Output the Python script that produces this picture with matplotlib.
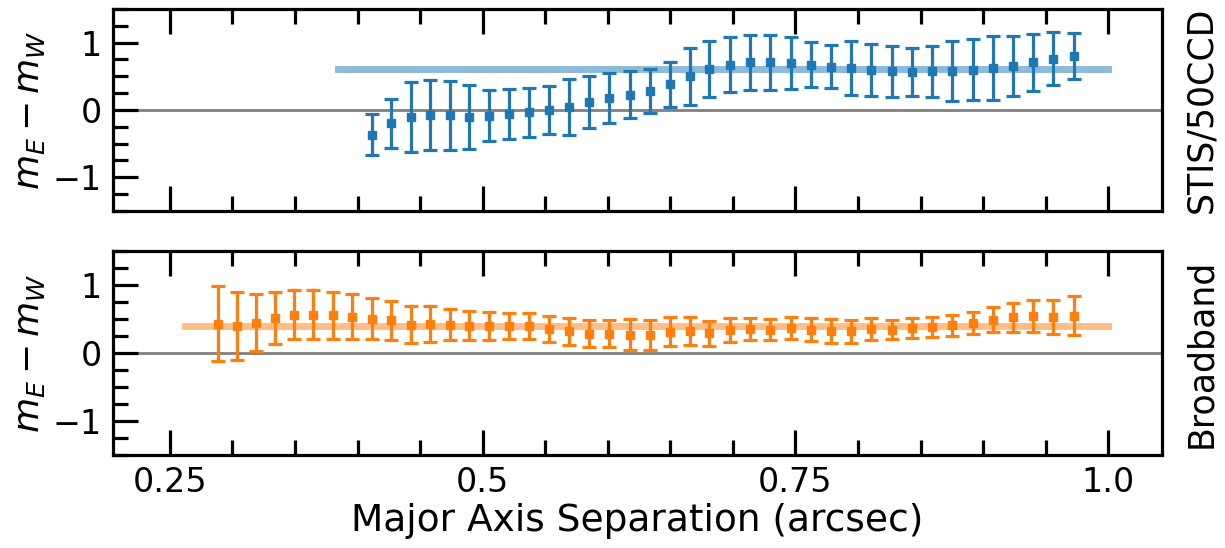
import matplotlib
matplotlib.use("Agg")
import matplotlib.pyplot as plt
from matplotlib.ticker import MultipleLocator

# separation bins (arcsec)
sep_broad = [0.2881, 0.3033, 0.3185, 0.3339, 0.3494, 0.3645, 0.3801, 0.3957,
             0.4112, 0.4267, 0.4424, 0.4578, 0.4736, 0.4893, 0.5052, 0.5212,
             0.5372, 0.5532, 0.5692, 0.5852, 0.6012, 0.6177, 0.6337, 0.6497,
             0.6657, 0.6811, 0.6977, 0.7136, 0.7296, 0.7462, 0.7621, 0.7781,
             0.7941, 0.8101, 0.8269, 0.8429, 0.8589, 0.8753, 0.8916, 0.9076,
             0.9236, 0.9401, 0.9561, 0.9726]
sep_stis = sep_broad[8:]

# STIS/50CCD: m_E - m_W and its error
dm_stis = [-0.365, -0.20, -0.104, -0.068, -0.078, -0.104, -0.083, -0.059,
           -0.034, 0.005, 0.044, 0.119, 0.178, 0.228, 0.282, 0.381,
           0.50, 0.607, 0.672, 0.711, 0.711, 0.696, 0.672, 0.643,
           0.618, 0.595, 0.573, 0.563, 0.573, 0.578, 0.598, 0.622,
           0.652, 0.707, 0.761, 0.80]
err_stis = [0.31, 0.36, 0.52, 0.52, 0.51, 0.48, 0.385, 0.37,
            0.366, 0.356, 0.41, 0.39, 0.37, 0.35, 0.33, 0.33,
            0.42, 0.42, 0.41, 0.41, 0.41, 0.385, 0.335, 0.32,
            0.40, 0.39, 0.38, 0.36, 0.38, 0.44, 0.45, 0.47,
            0.45, 0.42, 0.39, 0.34]

# Broadband
dm_broad = [0.432, 0.393, 0.442, 0.51, 0.565, 0.56, 0.555, 0.535,
            0.506, 0.481, 0.417, 0.427, 0.417, 0.403, 0.398, 0.403,
            0.393, 0.354, 0.319, 0.285, 0.285, 0.27, 0.27, 0.31,
            0.319, 0.29, 0.344, 0.354, 0.344, 0.369, 0.344, 0.319,
            0.319, 0.354, 0.344, 0.369, 0.384, 0.408, 0.442, 0.492,
            0.526, 0.541, 0.526, 0.551]
err_broad = [0.555, 0.497, 0.42, 0.385, 0.364, 0.36, 0.345, 0.33,
             0.30, 0.29, 0.275, 0.26, 0.226, 0.21, 0.20, 0.19,
             0.19, 0.187, 0.20, 0.20, 0.204, 0.224, 0.219, 0.214,
             0.206, 0.184, 0.177, 0.165, 0.16, 0.162, 0.167, 0.175,
             0.167, 0.165, 0.14, 0.143, 0.152, 0.157, 0.162, 0.182,
             0.214, 0.231, 0.253, 0.28]

# mean offsets (horizontal bands)
mean_stis = 0.607
mean_broad = 0.403
band_stis = [0.384, 1.0]
band_broad = [0.262, 1.0]

panels = [
    ("STIS/50CCD", sep_stis, dm_stis, err_stis, mean_stis, band_stis, "C0"),
    ("Broadband", sep_broad, dm_broad, err_broad, mean_broad, band_broad, "C1"),
]

fig = plt.figure(figsize=(12.25, 5.48), dpi=100)
boxes = [[0.0922, 0.615, 0.8564, 0.3686], [0.0922, 0.1697, 0.8564, 0.3723]]

for (name, x, y, e, m, band, col), box in zip(panels, boxes):
    ax = fig.add_axes(box)
    ax.axhline(0, color="gray", lw=2, zorder=1)
    ax.plot(band, [m, m], color=col, alpha=0.5, lw=5, zorder=2)
    ax.errorbar(x, y, yerr=e, fmt="s", color=col, ms=6, elinewidth=2.3,
                capsize=5, capthick=2.3, zorder=3)

    ax.set_xlim(0.2045, 1.043)
    ax.set_ylim(-1.5, 1.5)
    ax.set_xticks([0.25, 0.5, 0.75, 1.0])
    ax.xaxis.set_minor_locator(MultipleLocator(0.05))
    ax.set_yticks([-1, 0, 1])
    ax.yaxis.set_minor_locator(MultipleLocator(0.25))
    ax.tick_params(which="both", direction="in", top=True, right=True, labelsize=24)
    ax.tick_params(which="major", length=18, width=2.3, pad=8)
    ax.tick_params(which="minor", length=11, width=2.3)
    for s in ax.spines.values():
        s.set_linewidth(2.3)

    ax.set_ylabel(r"$m_E - m_W$", fontsize=26, labelpad=4)
    rax = ax.twinx()
    rax.set_yticks([])
    rax.set_ylabel(name, fontsize=25, labelpad=16)

    if name == "STIS/50CCD":
        ax.set_xticklabels([])
    else:
        ax.set_xticklabels(["0.25", "0.5", "0.75", "1.0"])
        ax.set_xlabel("Major Axis Separation (arcsec)", fontsize=27, labelpad=3)

fig.savefig("out.png", dpi=100)
